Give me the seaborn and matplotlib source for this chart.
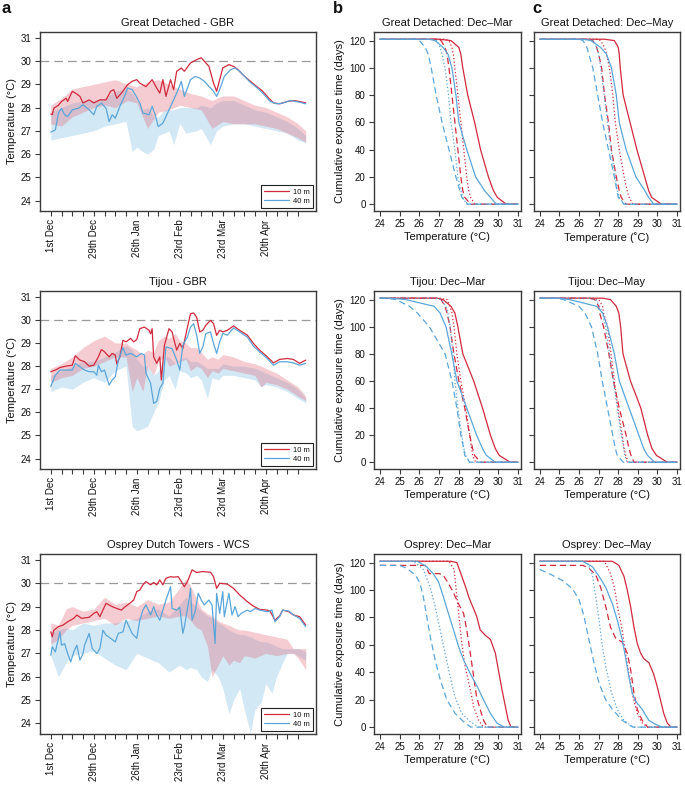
import matplotlib
matplotlib.use("Agg")
import matplotlib.pyplot as plt
import seaborn as sns

# ---------------- panel a: daily temperature (days counted from 1st Dec) ----------------
WEEK_TICKS = list(range(0, 162, 7))
DATE_LABELS = ["1st Dec", "29th Dec", "26th Jan", "23rd Feb", "23rd Mar", "20th Apr"]

# Great Detached - GBR
GD_RED_DAYS = [0, 1, 2, 5, 7, 10, 11, 14, 17, 19, 21, 25, 28, 32, 36, 39, 41, 43, 46, 50,
               53, 56, 58, 62, 66, 69, 71, 73, 75, 78, 80, 82, 85, 87, 91, 95, 98, 100, 103, 106,
               108, 110, 112, 116, 119, 122, 125, 130, 134, 138, 142, 145, 149, 154, 158, 162, 166]
GD_RED_T = [27.72, 27.70, 27.97, 28.10, 28.26, 28.40, 28.26, 28.70, 28.58, 28.48,
            28.20, 28.33, 28.20, 28.33, 28.33, 28.70, 28.77, 28.40, 28.62, 28.98,
            29.13, 29.20, 29.05, 28.90, 29.20, 28.84, 28.62, 29.20, 28.48, 29.20,
            28.77, 29.56, 29.70, 29.56, 29.92, 30.06, 30.14, 29.99, 29.77, 29.05,
            28.70, 29.20, 29.70, 29.85, 29.77, 29.63, 29.41, 29.13, 28.91, 28.70,
            28.40, 28.20, 28.16, 28.26, 28.30, 28.26, 28.20]
GD_BLUE_DAYS = [0, 3, 5, 7, 9, 11, 14, 18, 21, 25, 28, 30, 33, 36, 38, 40, 42, 45, 48, 50,
                53, 55, 58, 60, 64, 66, 68, 70, 73, 77, 80, 83, 85, 87, 91, 94, 97, 100, 103, 106,
                108, 110, 113, 117, 120, 123, 130, 134, 138, 143, 147, 151, 156, 162, 166]
GD_BLUE_T = [26.94, 27.04, 27.76, 27.97, 27.69, 27.61, 27.90, 27.97, 28.12, 27.90,
             27.69, 28.05, 28.19, 27.97, 27.40, 27.69, 27.54, 28.05, 28.48, 28.84,
             28.77, 28.55, 28.19, 27.76, 27.69, 28.05, 27.69, 27.18, 27.33, 27.90,
             28.33, 28.77, 29.13, 28.48, 29.20, 29.34, 29.27, 29.13, 28.91, 28.70,
             28.48, 28.77, 29.34, 29.63, 29.70, 29.56, 29.08, 28.87, 28.62, 28.26,
             28.16, 28.19, 28.30, 28.23, 28.16]
GD_RBAND_DAYS = [0, 7, 14, 21, 28, 35, 42, 50, 56, 63, 70, 77, 84, 91, 98, 105, 112, 119,
                 126, 133, 140, 147, 154, 161, 166]
GD_RBAND_LO = [27.3, 27.2, 27.6, 27.8, 28.0, 28.1, 28.0, 28.3, 28.2, 27.1, 27.8, 27.9, 28.1,
               28.0, 27.9, 27.1, 27.4, 27.3, 27.3, 27.3, 27.2, 27.1, 26.9, 26.7, 26.5]
GD_RBAND_HI = [28.1, 28.4, 28.8, 28.9, 29.0, 29.1, 29.2, 29.0, 28.9, 29.1, 29.2, 29.0, 28.8,
               28.6, 28.5, 28.3, 28.5, 28.5, 28.3, 28.1, 28.0, 27.8, 27.6, 27.3, 27.0]
GD_BBAND_DAYS = [0, 7, 14, 21, 28, 35, 42, 49, 53, 56, 60, 63, 67, 70, 74, 77, 80, 84, 88, 95,
                 98, 104, 108, 112, 119, 126, 133, 140, 147, 154, 161, 166]
GD_BBAND_LO = [26.6, 26.7, 26.8, 26.9, 27.0, 27.2, 27.3, 27.4, 26.1, 26.3, 26.1, 26.0, 26.2,
               26.8, 26.9, 27.0, 26.4, 27.3, 26.9, 27.0, 27.1, 26.4, 27.0, 27.2, 27.3, 27.3,
               27.2, 27.1, 27.0, 26.9, 26.6, 26.5]
GD_BBAND_HI = [27.8, 28.0, 28.2, 28.3, 28.3, 28.4, 28.7, 28.8, 28.6, 28.3, 27.9, 28.0, 27.6,
               27.6, 27.9, 27.9, 27.9, 28.0, 28.0, 28.0, 28.1, 28.0, 28.2, 28.3, 28.3, 28.1,
               27.9, 27.8, 27.6, 27.4, 27.1, 26.8]

# Tijou - GBR
TJ_RED_DAYS = [0, 3, 6, 10, 14, 16, 19, 22, 25, 28, 31, 33, 35, 38, 40, 42, 43, 45, 47, 49,
               52, 54, 56, 58, 61, 64, 65, 66, 67, 69, 71, 72, 74, 77, 79, 80, 82, 84, 86, 89,
               91, 93, 95, 97, 99, 101, 104, 106, 108, 110, 112, 115, 119, 123, 128, 132, 136,
               141, 145, 149, 154, 158, 162, 166]
TJ_RED_T = [27.76, 27.83, 27.94, 28.00, 28.04, 28.45, 28.26, 28.19, 28.00, 28.04,
            28.40, 28.72, 28.62, 28.40, 28.55, 28.48, 28.09, 28.40, 29.12, 29.05,
            29.20, 29.05, 29.15, 29.62, 29.69, 29.55, 29.40, 29.62, 28.40, 28.12,
            28.40, 27.40, 28.90, 29.62, 29.48, 29.20, 28.69, 28.98, 28.76, 29.69,
            30.27, 30.30, 30.12, 29.48, 29.55, 29.77, 29.98, 29.84, 29.33, 29.55,
            29.48, 29.55, 29.74, 29.55, 29.34, 28.98, 28.69, 28.40, 28.14, 28.29,
            28.33, 28.29, 28.12, 28.26]
TJ_BLUE_DAYS = [0, 3, 6, 10, 14, 16, 19, 22, 25, 28, 30, 31, 33, 35, 38, 40, 42, 44, 47, 49,
                52, 54, 56, 59, 61, 62, 65, 67, 69, 71, 73, 75, 79, 82, 84, 86, 89, 91, 93, 95,
                97, 99, 101, 104, 106, 108, 110, 112, 115, 119, 123, 128, 132, 136, 141, 145,
                149, 154, 158, 162, 166]
TJ_BLUE_T = [27.11, 27.61, 27.83, 27.83, 27.83, 28.12, 27.97, 27.83, 27.76, 27.76,
             27.61, 28.04, 27.76, 27.83, 27.18, 27.40, 27.54, 28.26, 28.80, 28.48,
             28.55, 28.48, 28.40, 28.55, 28.48, 27.69, 27.26, 26.39, 26.47, 27.04,
             27.26, 28.83, 28.76, 28.26, 27.83, 28.90, 29.26, 29.69, 29.84, 29.34,
             28.55, 28.83, 29.41, 29.48, 28.98, 28.55, 29.05, 29.41, 29.34, 29.65,
             29.48, 29.26, 28.86, 28.62, 28.33, 28.04, 28.19, 28.19, 28.14, 28.04, 28.12]
TJ_BAND_DAYS = [0, 7, 14, 21, 28, 35, 42, 49, 53, 56, 60, 63, 67, 70, 74, 77, 81, 84, 88, 91,
                95, 98, 102, 105, 109, 112, 119, 126, 133, 137, 140, 147, 154, 161, 166]
TJ_RBAND_LO = [27.3, 27.5, 27.6, 27.9, 28.0, 28.2, 28.4, 28.4, 26.9, 27.5, 26.9, 28.0, 27.6,
               28.2, 28.4, 28.0, 28.1, 28.2, 28.3, 27.8, 28.0, 27.9, 27.5, 27.8, 27.7, 27.9,
               27.8, 27.7, 27.6, 27.1, 27.3, 27.2, 27.0, 26.7, 26.5]
TJ_RBAND_HI = [27.9, 28.1, 28.4, 28.8, 29.1, 29.3, 29.0, 29.0, 28.8, 28.7, 28.5, 28.7, 28.6,
               29.1, 29.3, 29.2, 29.4, 29.1, 29.0, 28.8, 28.8, 28.6, 28.3, 28.4, 28.3, 28.5,
               28.4, 28.2, 28.1, 28.0, 27.9, 27.7, 27.4, 27.1, 26.7]
TJ_BBAND_LO = [26.9, 27.1, 27.0, 27.3, 27.5, 27.3, 27.8, 28.0, 25.4, 25.2, 25.3, 25.4, 26.0,
               26.4, 27.4, 27.6, 27.0, 27.8, 27.7, 27.5, 27.6, 27.4, 26.6, 27.5, 27.4, 27.6,
               27.6, 27.5, 27.4, 27.1, 27.2, 27.1, 26.9, 26.6, 26.4]
TJ_BBAND_HI = [27.6, 27.8, 28.0, 28.2, 28.2, 28.4, 28.6, 28.9, 28.7, 28.3, 28.0, 28.0, 27.6,
               27.8, 28.4, 28.4, 28.1, 28.3, 28.4, 28.2, 28.2, 28.1, 27.9, 27.9, 27.9, 28.1,
               28.0, 28.0, 27.9, 27.8, 27.7, 27.5, 27.3, 27.0, 26.6]

# Osprey Dutch Towers - WCS
OS_RED_DAYS = [0, 1, 2, 5, 8, 11, 15, 17, 20, 25, 28, 30, 32, 35, 36, 40, 43, 46, 48, 52,
               54, 56, 58, 60, 62, 65, 67, 69, 71, 73, 75, 78, 80, 83, 85, 87, 89, 92, 95, 99,
               104, 106, 108, 110, 115, 119, 123, 128, 132, 136, 141, 143, 146, 149, 151, 155,
               158, 162, 166]
OS_RED_T = [27.92, 27.71, 27.99, 28.14, 28.21, 28.35, 28.50, 28.64, 28.50, 28.54,
            28.71, 28.78, 28.57, 29.00, 29.14, 29.00, 28.92, 28.85, 28.97, 29.17,
            29.28, 29.64, 29.71, 29.93, 30.07, 29.93, 30.03, 29.93, 30.14, 29.93,
            30.21, 30.28, 30.26, 30.28, 30.07, 29.85, 30.07, 30.57, 30.46, 30.50,
            30.47, 30.28, 29.78, 30.00, 29.96, 29.78, 29.50, 29.21, 29.02, 28.88,
            28.85, 28.78, 28.42, 28.60, 28.85, 28.78, 28.64, 28.57, 28.21]
OS_BLUE_DAYS = [0, 1, 3, 6, 7, 9, 11, 13, 15, 17, 19, 21, 22, 25, 27, 30, 32, 34, 36, 39,
                42, 44, 47, 49, 53, 56, 58, 60, 62, 65, 67, 69, 71, 73, 75, 78, 79, 82, 84, 86,
                87, 90, 91, 92, 94, 96, 98, 100, 103, 105, 107, 108, 110, 112, 113, 116, 118,
                120, 122, 124, 128, 130, 133, 136, 141, 144, 146, 149, 151, 155, 158, 162, 166]
OS_BLUE_T = [26.92, 27.28, 27.06, 27.92, 27.35, 27.42, 26.99, 26.63, 27.06, 27.35,
             26.71, 26.99, 27.35, 27.85, 27.21, 26.99, 27.21, 27.99, 27.78, 27.64,
             27.49, 27.85, 27.92, 28.42, 27.85, 27.64, 28.42, 28.85, 29.07, 28.64,
             29.00, 28.64, 28.42, 28.85, 29.28, 29.85, 28.92, 28.85, 28.97, 27.85,
             28.14, 29.28, 29.78, 28.42, 28.78, 29.57, 29.28, 29.07, 29.28, 29.07,
             27.42, 29.57, 28.71, 29.64, 28.57, 29.57, 28.64, 29.00, 28.57, 28.71,
             28.85, 28.78, 28.92, 28.85, 28.78, 28.85, 28.35, 28.57, 28.85, 28.81,
             28.64, 28.50, 28.14]
OS_RBAND_DAYS = [0, 5, 10, 14, 21, 28, 35, 42, 49, 56, 63, 70, 77, 84, 88, 91, 95, 98, 102,
                 105, 109, 112, 116, 119, 123, 126, 133, 140, 147, 154, 158, 161, 166]
OS_RBAND_LO = [27.4, 27.6, 28.0, 28.2, 28.3, 28.4, 28.5, 28.2, 28.5, 28.4, 28.5, 28.6, 28.5,
               28.6, 28.6, 28.4, 28.1, 28.0, 27.3, 26.0, 26.5, 26.9, 26.5, 26.7, 26.6, 26.9,
               26.8, 27.0, 26.9, 27.0, 27.0, 26.8, 26.3]
OS_RBAND_HI = [28.3, 28.2, 28.9, 29.0, 28.8, 28.9, 29.4, 29.1, 29.2, 29.0, 29.3, 29.1, 29.2,
               29.8, 30.2, 29.9, 29.3, 28.9, 28.7, 28.6, 28.4, 28.3, 28.2, 28.1, 28.0, 28.0,
               27.9, 27.8, 27.7, 27.6, 27.2, 27.2, 27.2]
OS_BBAND_DAYS = [0, 5, 10, 14, 21, 28, 35, 42, 49, 56, 63, 70, 77, 84, 88, 91, 95, 98, 102,
                 105, 109, 112, 116, 119, 123, 126, 130, 133, 137, 140, 144, 147, 151, 154,
                 158, 161, 166]
OS_BBAND_LO = [26.9, 26.0, 26.6, 26.9, 27.0, 27.1, 26.8, 26.5, 26.3, 27.0, 26.8, 26.6, 26.2,
               26.5, 26.3, 26.4, 26.3, 26.0, 25.8, 26.3, 26.0, 25.5, 24.4, 25.0, 25.5, 24.6,
               23.6, 24.6, 24.9, 25.7, 25.3, 26.0, 26.6, 27.0, 27.0, 26.9, 26.7]
OS_BBAND_HI = [27.9, 28.0, 28.1, 28.0, 28.3, 28.2, 28.3, 28.3, 28.4, 28.5, 28.8, 28.9, 28.6,
               29.1, 29.4, 29.2, 29.0, 28.8, 28.6, 28.5, 28.3, 28.2, 28.0, 27.9, 27.8, 27.8,
               27.7, 27.6, 27.5, 27.5, 27.4, 27.3, 27.2, 27.2, 27.2, 27.2, 27.1]

# ---------------- panels b, c: cumulative exposure curves ----------------
# temperature (°C) at which each curve reaches the given number of days
LEVELS = [121, 120, 115, 110, 100, 80, 60, 40, 20, 10, 5, 0]

GD_MAR = {
    "red_solid": ([27.0, 27.6, 28.0, 28.1, 28.2, 28.45, 28.8, 29.1, 29.5, 29.75, 29.95, 30.4], LEVELS),
    "red_dash": ([26.8, 27.1, 27.3, 27.4, 27.5, 27.65, 27.8, 27.95, 28.1, 28.2, 28.3, 28.6], LEVELS),
    "red_dot": ([27.3, 27.5, 27.65, 27.72, 27.8, 27.95, 28.1, 28.25, 28.4, 28.5, 28.6, 28.8], LEVELS),
    "blue_solid": ([26.5, 26.8, 27.2, 27.45, 27.65, 27.85, 28.0, 28.4, 28.85, 29.3, 29.6, 29.9], LEVELS),
    "blue_dash": ([25.9, 26.0, 26.3, 26.45, 26.6, 26.85, 27.15, 27.5, 27.85, 28.05, 28.15, 28.45], LEVELS),
    "blue_dot": ([26.6, 26.9, 27.05, 27.15, 27.3, 27.48, 27.6, 27.8, 27.95, 28.1, 28.2, 28.4], LEVELS),
}
GD_MAY = {
    "red_solid": ([27.3, 27.8, 28.0, 28.05, 28.1, 28.25, 28.6, 28.95, 29.35, 29.55, 29.7, 30.2], LEVELS),
    "red_dash": ([26.5, 26.7, 26.9, 27.0, 27.15, 27.3, 27.5, 27.65, 27.9, 28.05, 28.15, 28.4], LEVELS),
    "red_dot": ([26.9, 27.1, 27.3, 27.4, 27.55, 27.72, 27.85, 28.05, 28.3, 28.45, 28.55, 28.75], LEVELS),
    "blue_solid": ([26.2, 26.6, 27.1, 27.4, 27.65, 27.9, 28.05, 28.4, 28.9, 29.35, 29.55, 29.8], LEVELS),
    "blue_dash": ([26.0, 26.2, 26.4, 26.5, 26.7, 26.95, 27.2, 27.5, 27.8, 27.93, 28.0, 28.3], LEVELS),
    "blue_dot": ([26.6, 26.75, 26.9, 27.0, 27.1, 27.28, 27.45, 27.62, 27.85, 27.95, 28.05, 28.3], LEVELS),
}
TJ_MAR = {
    "red_solid": ([26.9, 27.2, 27.6, 27.8, 27.95, 28.2, 28.75, 29.2, 29.6, 29.85, 30.05, 30.6], LEVELS),
    "red_dash": ([26.8, 27.1, 27.3, 27.4, 27.55, 27.75, 28.0, 28.3, 28.55, 28.7, 28.8, 29.1], LEVELS),
    "red_dot": ([27.0, 27.4, 27.55, 27.65, 27.75, 27.9, 28.1, 28.35, 28.55, 28.65, 28.7, 28.85], LEVELS),
    "blue_solid": ([24.5, 25.3, 26.75, 27.05, 27.35, 27.64, 27.9, 28.4, 28.9, 29.2, 29.4, 29.85], LEVELS),
    "blue_dash": ([24.3, 24.8, 25.5, 25.9, 26.5, 27.3, 27.65, 27.9, 28.1, 28.25, 28.3, 28.55], LEVELS),
    "blue_dot": ([26.8, 27.1, 27.35, 27.45, 27.55, 27.7, 27.8, 27.95, 28.15, 28.25, 28.35, 28.55], LEVELS),
}
TJ_MAY = {
    "red_solid": ([27.2, 27.6, 27.9, 28.03, 28.12, 28.24, 28.62, 29.15, 29.5, 29.72, 29.95, 30.5], LEVELS),
    "red_dash": ([26.5, 26.8, 27.0, 27.05, 27.25, 27.52, 27.75, 28.05, 28.4, 28.55, 28.65, 28.8], LEVELS),
    "red_dot": ([26.7, 27.0, 27.2, 27.25, 27.45, 27.63, 27.8, 27.98, 28.2, 28.3, 28.38, 28.5], LEVELS),
    "blue_solid": ([25.0, 25.5, 26.9, 27.2, 27.45, 27.8, 28.05, 28.55, 29.05, 29.3, 29.5, 29.85], LEVELS),
    "blue_dash": ([24.8, 25.2, 26.0, 26.3, 26.63, 26.95, 27.18, 27.45, 27.72, 27.85, 27.95, 28.25], LEVELS),
    "blue_dot": ([26.5, 26.85, 27.05, 27.2, 27.35, 27.55, 27.75, 27.95, 28.15, 28.28, 28.33, 28.45], LEVELS),
}
OS_MAR = {
    "red_solid": ([27.6, 27.9, 28.15, 28.35, 28.5, 28.7, 28.9, 29.08, 29.34, 29.6, 29.85, 30.0, 30.19, 30.36, 30.5, 30.65],
                  [121, 120, 110, 102, 95, 88, 81, 71, 67, 64, 54, 42, 27, 15, 5, 0]),
    "red_dash": ([26.3, 26.5, 27.0, 27.2, 27.47, 27.73, 27.98, 28.24, 28.4, 28.58, 28.75, 28.9, 29.08, 29.25, 29.45],
                 [118, 112, 112, 111, 105, 98, 90, 83, 71, 54, 37, 22, 13, 5, 0]),
    "red_dot": ([27.5, 27.76, 27.9, 28.03, 28.15, 28.32, 28.54, 28.75, 29.0, 29.25],
                [121, 115, 95, 78, 61, 44, 30, 15, 5, 0]),
    "blue_solid": ([25.9, 26.37, 26.7, 26.97, 27.22, 27.47, 27.73, 27.98, 28.24, 28.58, 28.92, 29.25, 29.6, 29.93, 30.3],
                   [121, 117, 112, 106, 95, 83, 71, 59, 49, 39, 30, 20, 10, 3, 0]),
    "blue_dash": ([25.0, 25.35, 25.8, 26.03, 26.2, 26.37, 26.55, 26.8, 27.05, 27.39, 27.81, 28.24, 28.6],
                  [118, 116, 111, 105, 95, 81, 66, 49, 35, 20, 10, 4, 0]),
    "blue_dot": ([25.7, 26.2, 26.55, 26.8, 27.05, 27.3, 27.56, 27.8, 28.15, 28.58, 29.0],
                 [121, 115, 102, 88, 71, 54, 37, 22, 10, 4, 0]),
}
OS_MAY = {
    "red_solid": ([27.7, 28.03, 28.29, 28.46, 28.63, 28.8, 28.97, 29.14, 29.3, 29.56, 29.8, 29.98, 30.15, 30.32, 30.5, 30.7],
                  [121, 118, 110, 100, 88, 73, 61, 54, 50, 47, 39, 30, 20, 10, 3, 0]),
    "red_dash": ([26.2, 26.5, 26.85, 27.1, 27.36, 27.6, 27.86, 28.2, 28.46, 28.63, 28.8, 28.97, 29.22, 29.5],
                 [118, 116, 111, 102, 88, 73, 65, 62, 54, 42, 25, 13, 5, 0]),
    "red_dot": ([27.3, 27.6, 27.8, 28.0, 28.2, 28.37, 28.54, 28.75, 28.97, 29.22, 29.5],
                [121, 112, 102, 85, 71, 54, 39, 22, 10, 3, 0]),
    "blue_solid": ([26.17, 26.68, 27.02, 27.36, 27.7, 27.95, 28.2, 28.37, 28.54, 28.71, 28.88, 29.22, 29.56, 29.9, 30.24],
                   [121, 117, 110, 102, 90, 78, 64, 51, 37, 25, 19, 13, 5, 2, 0]),
    "blue_dash": ([24.0, 24.47, 25.15, 25.66, 26.0, 26.25, 26.5, 26.76, 27.02, 27.36, 27.7, 28.2, 28.75],
                  [115, 112, 107, 101, 93, 81, 64, 47, 32, 20, 13, 5, 0]),
    "blue_dot": ([26.4, 26.68, 26.85, 27.02, 27.19, 27.39, 27.66, 27.95, 28.29, 28.75],
                 [121, 111, 95, 78, 59, 42, 25, 13, 5, 0]),
}

RED = "#d1293d"
BLUE = "#5aa6da"
PINK = "#e06e7d"
SKY = "#8cc3e6"
CURVE_STYLE = {
    "red_solid": (RED, "-"), "red_dash": (RED, (0, (5, 3))), "red_dot": (RED, (0, (1, 1.8))),
    "blue_solid": (BLUE, "-"), "blue_dash": (BLUE, (0, (5, 3))), "blue_dot": (BLUE, (0, (1, 1.8))),
}

sns.set_theme(style="ticks")
plt.rcParams["font.family"] = ["Liberation Sans", "DejaVu Sans"]
plt.rcParams.update({
    "axes.edgecolor": "#3a3a3a", "axes.linewidth": 1.0,
    "xtick.color": "#3a3a3a", "ytick.color": "#3a3a3a",
    "xtick.labelcolor": "#111111", "ytick.labelcolor": "#111111",
    "xtick.major.size": 3.5, "ytick.major.size": 3.5,
    "xtick.major.width": 0.8, "ytick.major.width": 0.8,
    "xtick.major.pad": 2.5, "ytick.major.pad": 2.5,
    "xtick.labelsize": 7, "ytick.labelsize": 7,
    "axes.labelsize": 8, "axes.titlesize": 8,
    "axes.labelcolor": "#111111", "text.color": "#111111",
})

W, H = 685, 787


def add_axes(fig, left, right, top, bottom):
    return fig.add_axes([left / W, 1 - bottom / H, (right - left) / W, (bottom - top) / H])


def panel_a(ax, title, red, blue, rband, bband):
    # blue band first, pink band on top so the overlap turns mauve
    ax.fill_between(bband[0], bband[1], bband[2], color=SKY, alpha=0.38, lw=0)
    ax.fill_between(rband[0], rband[1], rband[2], color=PINK, alpha=0.35, lw=0)
    ax.axhline(30, color="#9a9a9a", lw=0.9, dashes=(7, 4))
    sns.lineplot(x=red[0], y=red[1], ax=ax, color=RED, lw=0.9, estimator=None, label="10 m")
    sns.lineplot(x=blue[0], y=blue[1], ax=ax, color=BLUE, lw=0.9, estimator=None, label="40 m")
    ax.set_xlim(-7, 172.7)
    ax.set_ylim(23.55, 31.25)
    ax.set_xticks(WEEK_TICKS)
    ax.set_xticklabels([DATE_LABELS[i // 4] if i % 4 == 0 else "" for i in range(len(WEEK_TICKS))],
                       rotation=90)
    ax.set_yticks(range(24, 32))
    ax.set_xlabel("")
    ax.set_ylabel("Temperature (°C)", labelpad=3)
    ax.set_title(title, pad=4)
    leg = ax.legend(loc="lower right", fontsize=5.5, frameon=True, fancybox=False,
                    edgecolor="#222222", framealpha=1, handlelength=3.2, borderaxespad=0.35,
                    borderpad=0.45, labelspacing=0.25, handletextpad=0.6)
    leg.get_frame().set_linewidth(0.8)


def panel_cum(ax, title, curves, show_ylabel, xlabel="Temperature (°C)"):
    for key, (temps, days) in curves.items():
        colour, dash = CURVE_STYLE[key]
        x = [24.0] + list(temps) + [31.0]
        y = [days[0]] + list(days) + [0]
        sns.lineplot(x=x, y=y, ax=ax, color=colour, lw=0.9, linestyle=dash,
                     estimator=None, sort=False)
    ax.set_xlim(23.7, 31.15)
    ax.set_ylim(-5, 126.3)
    ax.set_xticks(range(24, 32))
    ax.set_yticks(range(0, 121, 20))
    ax.set_xlabel(xlabel, labelpad=2)
    ax.set_title(title, pad=4)
    if show_ylabel:
        ax.set_ylabel("Cumulative exposure time (days)", labelpad=3)
    else:
        ax.set_ylabel("")
        ax.tick_params(labelleft=False)


fig = plt.figure(figsize=(W / 100, H / 100), dpi=100)

rows = [(32, 211), (291, 469), (554, 734)]
sites = [
    ("Great Detached - GBR", (GD_RED_DAYS, GD_RED_T), (GD_BLUE_DAYS, GD_BLUE_T),
     (GD_RBAND_DAYS, GD_RBAND_LO, GD_RBAND_HI), (GD_BBAND_DAYS, GD_BBAND_LO, GD_BBAND_HI),
     "Great Detached", GD_MAR, GD_MAY, "Temperature (˚C)"),
    ("Tijou - GBR", (TJ_RED_DAYS, TJ_RED_T), (TJ_BLUE_DAYS, TJ_BLUE_T),
     (TJ_BAND_DAYS, TJ_RBAND_LO, TJ_RBAND_HI), (TJ_BAND_DAYS, TJ_BBAND_LO, TJ_BBAND_HI),
     "Tijou", TJ_MAR, TJ_MAY, "Temperature (°C)"),
    ("Osprey Dutch Towers - WCS", (OS_RED_DAYS, OS_RED_T), (OS_BLUE_DAYS, OS_BLUE_T),
     (OS_RBAND_DAYS, OS_RBAND_LO, OS_RBAND_HI), (OS_BBAND_DAYS, OS_BBAND_LO, OS_BBAND_HI),
     "Osprey", OS_MAR, OS_MAY, "Temperature (°C)"),
]

for (top, bottom), (title, red, blue, rband, bband, short, mar, may, c_xlabel) in zip(rows, sites):
    ax_a = add_axes(fig, 40, 316, top, bottom)
    panel_a(ax_a, title, red, blue, rband, bband)
    ax_b = add_axes(fig, 374, 521, top, bottom)
    panel_cum(ax_b, f"{short}: Dec–Mar", mar, True)
    ax_c = add_axes(fig, 534, 680, top, bottom)
    panel_cum(ax_c, f"{short}: Dec–May", may, False, c_xlabel)

for letter, xpos in [("a", 2), ("b", 333), ("c", 532)]:
    fig.text(xpos / W, 1 - 1 / H, letter, fontsize=12, fontweight="bold", va="top", ha="left")

fig.savefig("out.png", dpi=100)
plt.close(fig)
